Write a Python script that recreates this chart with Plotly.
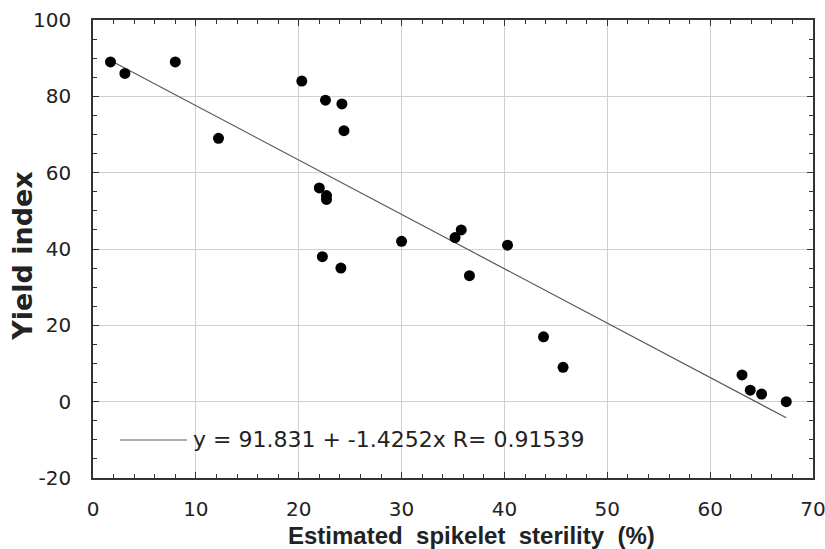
import plotly.graph_objects as go

# Data
sterility = [1.7, 3.1, 8.0, 12.2, 20.3, 22.6, 24.2, 24.4, 22.0, 22.7, 22.7, 22.3, 24.1,
             30.0, 35.2, 35.8, 40.3, 36.6, 43.8, 45.7, 63.1, 63.9, 65.0, 67.4]
yield_index = [89, 86, 89, 69, 84, 79, 78, 71, 56, 54, 53, 38, 35,
               42, 43, 45, 41, 33, 17, 9, 7, 3, 2, 0]

intercept = 91.831
slope = -1.4252
r_value = 0.91539

x_ticks = [0, 10, 20, 30, 40, 50, 60, 70]
x_ticktext = ["0", "10", "20", "30", "40", "50", "60", "70"]
y_ticks = [-20, 0, 20, 40, 60, 80, 100]
y_ticktext = ["-20", "0", "20", "40", "60", "80", "100"]

fit_x = [min(sterility), max(sterility)]
fit_y = [intercept + slope * v for v in fit_x]

FONT = "DejaVu Sans, Verdana, sans-serif"
FONT_H = "Liberation Sans, Arial, Helvetica, sans-serif"

fig = go.Figure()
fig.add_trace(go.Scatter(x=fit_x, y=fit_y, mode="lines",
                         line=dict(color="#5a5a5a", width=1.2), showlegend=False,
                         hoverinfo="skip"))
fig.add_trace(go.Scatter(x=sterility, y=yield_index, mode="markers",
                         marker=dict(color="black", size=11), showlegend=False))

axis_common = dict(
    showline=True, linecolor="#333333", linewidth=1.5, mirror="ticks",
    ticks="inside", ticklen=6, tickcolor="#333333", tickwidth=1,
    showgrid=True, gridcolor="#d0d0d0", gridwidth=1,
    zeroline=False, automargin=False, ticklabeloverflow="allow",
    tickfont=dict(family=FONT, size=20, color="#222222"),
)

fig.update_xaxes(range=[0, 70], tickvals=x_ticks, ticktext=x_ticktext, ticklabelstandoff=12,
                 minor=dict(dtick=2, ticks="inside", ticklen=4, tickcolor="#333333", showgrid=False),
                 **axis_common)
fig.update_yaxes(range=[-20, 100], tickvals=y_ticks, ticktext=y_ticktext, ticklabelstandoff=16,
                 minor=dict(dtick=5, ticks="inside", ticklen=4, tickcolor="#333333", showgrid=False),
                 **axis_common)

# Axis titles
fig.add_annotation(xref="paper", yref="paper", x=0.525, y=0, yshift=-57,
                   xanchor="center", yanchor="middle", showarrow=False,
                   text="<b>Estimated  spikelet  sterility  (%)</b>",
                   font=dict(family=FONT_H, size=24, color="#222222"))
fig.add_annotation(xref="paper", yref="paper", x=0, xshift=-70, y=0.485,
                   xanchor="center", yanchor="middle", showarrow=False, textangle=-90,
                   text="<b>Yield index</b>",
                   font=dict(family=FONT, size=27, color="#222222"))

# Legend-style equation label
fig.add_shape(type="line", xref="paper", yref="paper",
              x0=0.0375, x1=0.1306, y0=0.083, y1=0.083,
              line=dict(color="#5a5a5a", width=1.2))
fig.add_annotation(xref="paper", yref="paper", x=0.136, y=0.083,
                   xanchor="left", yanchor="middle", showarrow=False,
                   text=f"y = {intercept} + {slope}x R= {r_value}",
                   font=dict(family=FONT, size=22, color="#222222"))

fig.update_layout(
    width=825, height=549,
    margin=dict(l=93, r=12, t=20, b=71),
    plot_bgcolor="white", paper_bgcolor="white",
)

fig.write_html("out.html", config={"displayModeBar": False},
               post_script="document.body.style.margin='0';document.body.style.overflow='hidden';")
